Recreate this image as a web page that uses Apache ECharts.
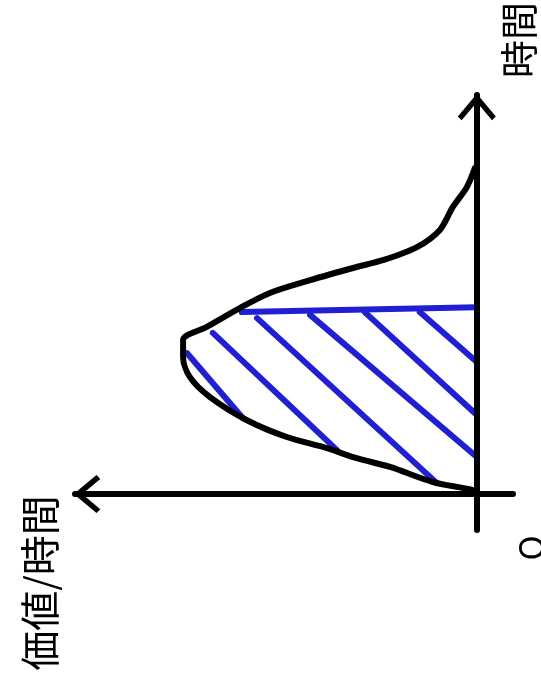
<!DOCTYPE html>
<html>
<head>
<meta charset="utf-8">
<script src="https://cdn.jsdelivr.net/npm/echarts@6/dist/echarts.min.js"></script>
<style>
html, body { margin: 0; padding: 0; background: #fff; }
#chart { width: 541px; height: 695px; }
</style>
</head>
<body>
<div id="chart"></div>
<script>
// 横軸 = 価値/時間 (左向き), 縦軸 = 時間 (上向き)
var curveValue = [0, 1.0, 10.9, 21.6, 29.9, 37.3, 47.3, 57.2, 66.4, 71.4, 73.1, 73.1, 67.2, 59.0, 51.5, 41.5, 29.9, 23.4, 14.9, 9.2, 6.0, 2.5, 0.5];
var curveTime = [0, 1.0, 3.0, 6.8, 9.0, 11.5, 14.3, 18.5, 24.3, 29.3, 34.3, 38.6, 41.9, 46.6, 50.4, 53.6, 56.9, 58.6, 61.9, 66.2, 71.9, 76.9, 81.7];

// 斜線部分 [始点, 終点]
var hatchLines = [
    [[58.5, 45.6], [0, 46.8]],
    [[72.1, 35.3], [58.2, 19.0]],
    [[65.7, 40.4], [34.8, 11.0]],
    [[54.7, 44.1], [10.0, 2.8]],
    [[41.5, 44.9], [0, 9.3]],
    [[27.9, 45.6], [0, 19.8]],
    [[14.2, 45.6], [0, 33.1]]
];

var xName = '価値/時間';
var yName = '時間';
var originName = 'O';

var myChart = echarts.init(document.getElementById('chart'));

var arrowPath = 'path://M0,0L20,24L16,28L0,9L-16,28L-20,24Z';
var fontFamily = '"Noto Sans CJK JP", "Noto Sans", sans-serif';

var curveData = curveValue.map(function (v, i) {
    return [v, curveTime[i]];
});

var series = [];
hatchLines.forEach(function (seg) {
    series.push({
        type: 'line',
        data: seg,
        showSymbol: false,
        silent: true,
        z: 2,
        lineStyle: {color: '#2020d2', width: 6, cap: 'round'}
    });
});
series.push({
    type: 'line',
    data: curveData,
    smooth: 0.3,
    showSymbol: false,
    silent: true,
    z: 5,
    lineStyle: {color: '#000', width: 6, cap: 'round', join: 'round'}
});

function axisLine(symbol, offset) {
    return {
        onZero: true,
        lineStyle: {color: '#000', width: 6},
        symbol: symbol,
        symbolSize: [38, 27],
        symbolOffset: offset
    };
}

var option = {
    backgroundColor: '#fff',
    animation: false,
    grid: {left: 75, right: 28, top: 95, bottom: 165},
    xAxis: {
        type: 'value',
        inverse: true,
        min: -9,
        max: 100,
        z: 4,
        splitLine: {show: false},
        axisTick: {show: false},
        axisLabel: {show: false},
        // inverse のため左端が始点側
        axisLine: axisLine([arrowPath, 'none'], [12, 0])
    },
    yAxis: {
        type: 'value',
        min: -9,
        max: 100,
        z: 4,
        splitLine: {show: false},
        axisTick: {show: false},
        axisLabel: {show: false},
        axisLine: axisLine(['none', arrowPath], [0, -12])
    },
    series: series,
    graphic: [
        {
            type: 'text', x: 519, y: 40, rotation: Math.PI / 2,
            style: {text: yName, font: '38px ' + fontFamily, fill: '#000', align: 'center', verticalAlign: 'middle'}
        },
        {
            type: 'text', x: 40, y: 583, rotation: Math.PI / 2,
            style: {text: xName, font: '40px ' + fontFamily, fill: '#000', align: 'center', verticalAlign: 'middle'}
        },
        {
            type: 'text', x: 531, y: 548, rotation: Math.PI / 2,
            style: {text: originName, font: '34px ' + fontFamily, fill: '#000', align: 'center', verticalAlign: 'middle'}
        }
    ]
};

myChart.setOption(option);
</script>
</body>
</html>
